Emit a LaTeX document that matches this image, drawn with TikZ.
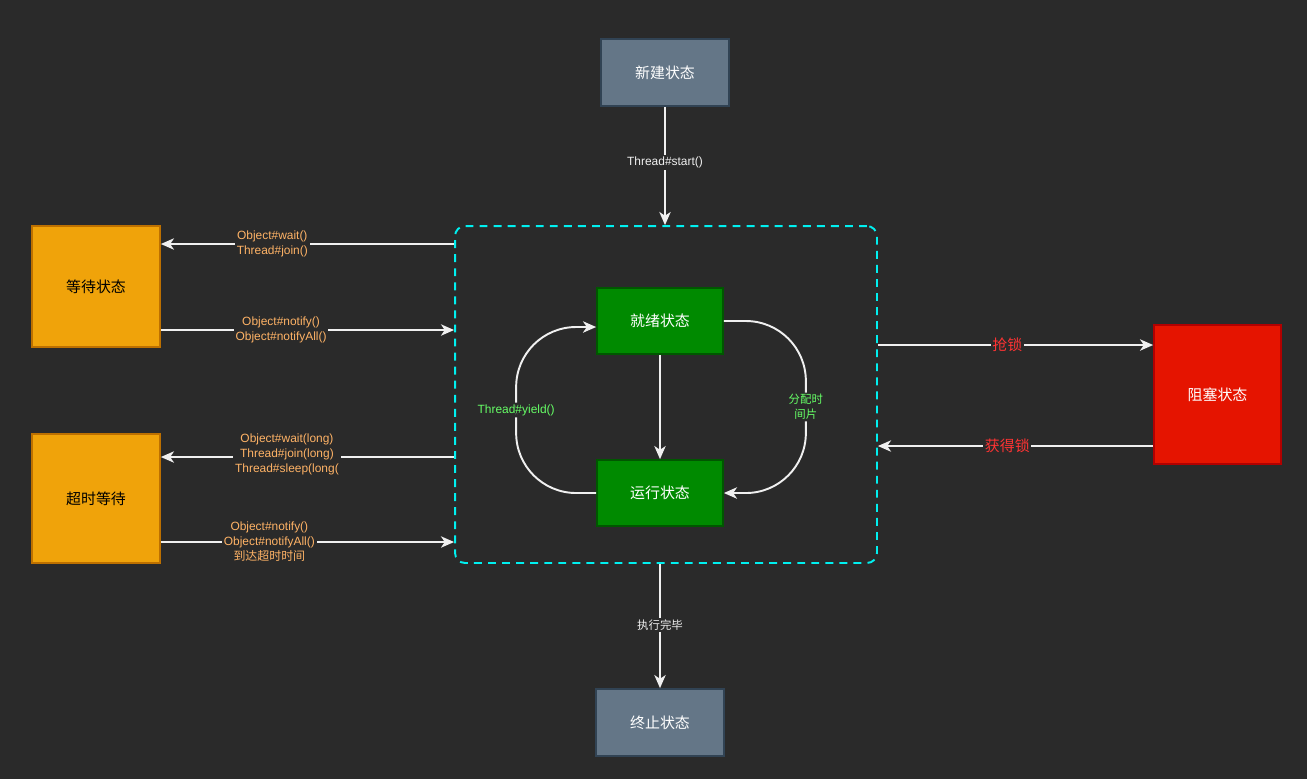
\documentclass[tikz,border=0pt]{standalone}
\usepackage{fontspec}
\setmainfont{Liberation Sans}
\newfontfamily\cjk{Noto Sans CJK SC}
\usetikzlibrary{arrows.meta}
\definecolor{bgdark}{HTML}{2A2A2A}
\definecolor{linegray}{HTML}{F0F0F0}
\definecolor{slatefill}{HTML}{647687}
\definecolor{slatedraw}{HTML}{314354}
\definecolor{waitfill}{HTML}{F0A30A}
\definecolor{waitdraw}{HTML}{BD7000}
\definecolor{runfill}{HTML}{008A00}
\definecolor{rundraw}{HTML}{005700}
\definecolor{blockfill}{HTML}{E51400}
\definecolor{blockdraw}{HTML}{B20000}
\definecolor{poolline}{HTML}{00F0F0}
\definecolor{orangetext}{HTML}{FFB366}
\definecolor{greentext}{HTML}{66FF66}
\definecolor{redtext}{HTML}{FF3333}
\tikzstyle{threadstates}=[%
	stateBox/.style={%
		draw,
		line width=1pt,
		minimum width=2.56cm,
		minimum height=1.34cm,
		text=white,
		font=\cjk\fontsize{8.5}{10}\selectfont
	},%
	slateBox/.style={stateBox, fill=slatefill, draw=slatedraw},
	waitBox/.style={stateBox, fill=waitfill, draw=waitdraw, text=black},
	runBox/.style={stateBox, fill=runfill, draw=rundraw, minimum width=2.52cm, minimum height=1.32cm},
	blockBox/.style={stateBox, fill=blockfill, draw=blockdraw, minimum width=2.54cm, minimum height=2.78cm},
	pool/.style={%
		draw=poolline,
		line width=1.1pt,
		dash pattern=on 4.5pt off 3.5pt,
		rounded corners=0.2cm,
		minimum width=8.44cm,
		minimum height=6.74cm
	},%
	flow/.style={%
		draw=linegray,
		line width=0.85pt,
		-{Stealth[length=7.5pt,width=6.5pt,inset=2.2pt]}
	},%
	loopFlow/.style={flow, line width=1.1pt, rounded corners=1.2cm},
	lbl/.style={%
		fill=bgdark,
		inner sep=1pt,
		align=center,
		text=linegray,
		font=\fontsize{6.8}{8.5}\selectfont
	},%
	orangeLbl/.style={lbl, text=orangetext},
	greenLbl/.style={lbl, text=greentext},
	redLbl/.style={lbl, text=redtext, font=\cjk\fontsize{8.5}{10}\selectfont}
]
\begin{document}
\begin{tikzpicture}[
	x=0.02cm,
	y=-0.02cm,
	threadstates
]
	\useasboundingbox (0,0) rectangle (1307,779);
	\fill [bgdark] (0,0) rectangle (1307,779);

	\node [pool] (cont) at (666,394.5) {};

	\node [slateBox] (newst) at (665,72.5) {新建状态};
	\node [slateBox] (endst) at (660,722.5) {终止状态};
	\node [waitBox, minimum height=2.42cm] (wait) at (96,286.5) {等待状态};
	\node [waitBox, minimum height=2.58cm] (timed) at (96,498.5) {超时等待};
	\node [runBox] (ready) at (660,321) {就绪状态};
	\node [runBox] (run) at (660,493) {运行状态};
	\node [blockBox] (block) at (1217.5,394.5) {阻塞状态};

	\draw [flow] (newst.south) -- (newst.south |- cont.north)
		node [lbl, pos=0.47] {Thread\#start()};
	\draw [flow] (endst.north |- cont.south) -- (endst.north)
		node [lbl, pos=0.49, font=\cjk\fontsize{6.5}{8.5}\selectfont] {执行完毕};

	\draw [flow] (cont.west |- 0,244) -- (wait.east |- 0,244)
		node [orangeLbl, pos=0.62] {Object\#wait()\\Thread\#join()};
	\draw [flow] (wait.east |- 0,330) -- (cont.west |- 0,330)
		node [orangeLbl, pos=0.41] {Object\#notify()\\Object\#notifyAll()};
	\draw [flow] (cont.west |- 0,457) -- (timed.east |- 0,457)
		node [orangeLbl, pos=0.57, yshift=1.5pt] {Object\#wait(long)\\Thread\#join(long)\\Thread\#sleep(long(};
	\draw [flow] (timed.east |- 0,542) -- (cont.west |- 0,542)
		node [orangeLbl, pos=0.37] {Object\#notify()\\Object\#notifyAll()\\{\cjk 到达超时时间}};

	\draw [flow] (cont.east |- 0,345) -- (block.west |- 0,345)
		node [redLbl, pos=0.47] {抢锁};
	\draw [flow] (block.west |- 0,446) -- (cont.east |- 0,446)
		node [redLbl, pos=0.53] {获得锁};

	\draw [flow] (ready.south) -- (run.north);
	\draw [loopFlow] (run.west)
		-| ([xshift=-1.6cm,yshift=-0.12cm]ready.west)
		node [greenLbl, pos=0.75] {Thread\#yield()}
		-- ([yshift=-0.12cm]ready.west);
	\draw [loopFlow] (ready.east)
		-| ([xshift=1.64cm]run.east)
		node [greenLbl, pos=0.75, font=\cjk\fontsize{6.5}{8.5}\selectfont] {分配时\\间片}
		-- (run.east);
\end{tikzpicture}
\end{document}
